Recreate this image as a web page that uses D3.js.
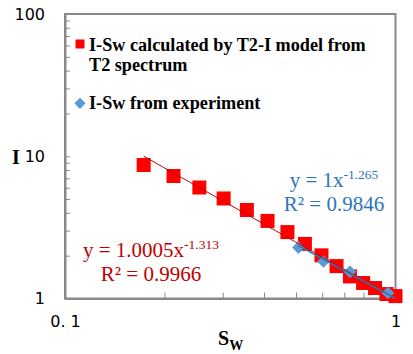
<!DOCTYPE html>
<html><head><meta charset="utf-8">
<script src="https://cdn.jsdelivr.net/npm/d3@7"></script>
<style>body{margin:0;background:#fff;} svg{display:block;}</style>
</head><body>
<svg id="c" width="413" height="354"></svg>
<script>
// Data
const modelSw = [0.173, 0.213, 0.255, 0.302, 0.355, 0.410, 0.471, 0.532, 0.597, 0.663, 0.728, 0.798, 0.867, 0.939, 1.0];
const modelI  = [8.68, 7.26, 6.03, 5.05, 4.19, 3.51, 2.93, 2.42, 2.01, 1.69, 1.43, 1.285, 1.185, 1.075, 1.04];
const expSw = [0.5085, 0.6055, 0.728, 0.949];
const expI  = [2.28, 1.82, 1.54, 1.093];
// trendline power-law coefficients (as printed on the chart)
const modelFit = {a: 1.0005, b: -1.313};
const expFit = {a: 1, b: -1.265};
const xTickValues = [0.1,0.2,0.3,0.4,0.5,0.6,0.7,0.8,0.9,1];
const xTickLabels = {"0.1": "0. 1", "1": "1"};
const yTickValues = [1,2,3,4,5,6,7,8,9,10,20,30,40,50,60,70,80,90,100];
const yTickLabels = {"1": "1", "10": "10", "100": "100"};
const legendLabels = [["I-Sw calculated by T2-I model from", "T2 spectrum"], ["I-Sw from experiment"]];

const svg = d3.select("#c");
const L = 65, R = 395.5, T = 14, B = 298.5;
const x = d3.scaleLog().domain([0.1, 1]).range([L, R]);
const y = d3.scaleLog().domain([1, 100]).range([B, T]);
const axisColor = "#898989";

// plot border
svg.append("rect").attr("x", L).attr("y", T).attr("width", R - L).attr("height", B - T)
  .attr("fill", "none").attr("stroke", axisColor).attr("stroke-width", 2);

const xAxis = d3.axisBottom(x).tickValues(xTickValues).tickSizeInner(-6).tickSizeOuter(0)
  .tickPadding(17).tickFormat(d => xTickLabels[String(+d.toFixed(1))] || "");
const gx = svg.append("g").attr("transform", `translate(0,${B})`).call(xAxis);
gx.select(".domain").attr("stroke", axisColor).attr("stroke-width", 2);
gx.selectAll(".tick line").attr("stroke", axisColor).attr("stroke-width", 1);
gx.selectAll(".tick text").attr("font-family", "DejaVu Sans").attr("font-size", 16).attr("fill", "#000");

const yAxis = d3.axisLeft(y).tickValues(yTickValues).tickSizeInner(-5).tickSizeOuter(0)
  .tickPadding(20).tickFormat(d => yTickLabels[String(d)] || "");
const gy = svg.append("g").attr("transform", `translate(${L},0)`).call(yAxis);
gy.select(".domain").attr("stroke", axisColor).attr("stroke-width", 2);
gy.selectAll(".tick line").attr("stroke", axisColor).attr("stroke-width", 1);
gy.selectAll(".tick text").attr("font-family", "DejaVu Sans").attr("font-size", 16).attr("fill", "#000");

// markers
const model = modelSw.map((s, i) => ({s, v: modelI[i]}));
const exp = expSw.map((s, i) => ({s, v: expI[i]}));
const sq = 14;
svg.append("g").selectAll("rect").data(model).join("rect")
  .attr("x", d => x(d.s) - sq / 2).attr("y", d => y(d.v) - sq / 2)
  .attr("width", sq).attr("height", sq).attr("fill", "#FF0000");
const dm = 9;
svg.append("g").selectAll("rect").data(exp).join("rect")
  .attr("x", -dm / 2).attr("y", -dm / 2).attr("width", dm).attr("height", dm)
  .attr("transform", d => `translate(${x(d.s)},${y(d.v)}) rotate(45)`)
  .attr("fill", "#5B9BD5");

// trendlines
function trend(fit, s0, s1) {
  const pts = d3.range(0, 41).map(i => {
    const s = Math.exp(Math.log(s0) + (Math.log(s1) - Math.log(s0)) * i / 40);
    return [x(s), y(fit.a * Math.pow(s, fit.b))];
  });
  return d3.line()(pts);
}
svg.append("path").attr("d", trend(modelFit, d3.min(modelSw), 1)).attr("fill", "none")
  .attr("stroke", "#C00000").attr("stroke-width", 1);
svg.append("path").attr("d", trend(expFit, d3.min(expSw), 1)).attr("fill", "none")
  .attr("stroke", "#2E75B6").attr("stroke-width", 1.5);

// legend
const lg = svg.append("g").attr("font-family", "Liberation Serif").attr("font-weight", "bold").attr("font-size", 18.2).attr("fill", "#000");
lg.append("rect").attr("x", 75.5).attr("y", 39.5).attr("width", 9).attr("height", 9).attr("fill", "#FF0000");
lg.append("text").attr("x", 89).attr("y", 50.7).text(legendLabels[0][0]);
lg.append("text").attr("x", 89).attr("y", 70.7).text(legendLabels[0][1]);
lg.append("rect").attr("x", -4).attr("y", -4).attr("width", 8).attr("height", 8)
  .attr("transform", "translate(80,103.3) rotate(45)").attr("fill", "#5B9BD5");
lg.append("text").attr("x", 89).attr("y", 108.5).text(legendLabels[1][0]);

// equations
function eq(cx, y1, coef, exp, r2, color) {
  const g = svg.append("g").attr("font-family", "Liberation Serif").attr("font-size", 21).attr("fill", color).attr("text-anchor", "middle");
  const t = g.append("text").attr("x", cx).attr("y", y1);
  t.append("tspan").text(`y = ${coef}x`);
  t.append("tspan").attr("font-size", 13.5).attr("dy", -8).text(exp);
  g.append("text").attr("x", cx).attr("y", y1 + 24).text(`R² = ${r2}`);
}
eq(151, 257, "1.0005", "-1.313", "0.9966", "#C00000");
eq(334, 186.5, "1", "-1.265", "0.9846", "#2E75B6");

// axis titles
const xt = svg.append("text").attr("x", 218).attr("y", 345).attr("font-family", "Liberation Serif").attr("font-weight", "bold").attr("font-size", 20).attr("fill", "#000");
xt.append("tspan").text("S");
xt.append("tspan").attr("font-size", 14).attr("dy", 5).text("W");
svg.append("text").attr("x", 16).attr("y", 164).attr("text-anchor", "middle").attr("font-family", "Liberation Serif").attr("font-weight", "bold").attr("font-size", 20).attr("fill", "#000").text("I");
</script>
</body></html>
